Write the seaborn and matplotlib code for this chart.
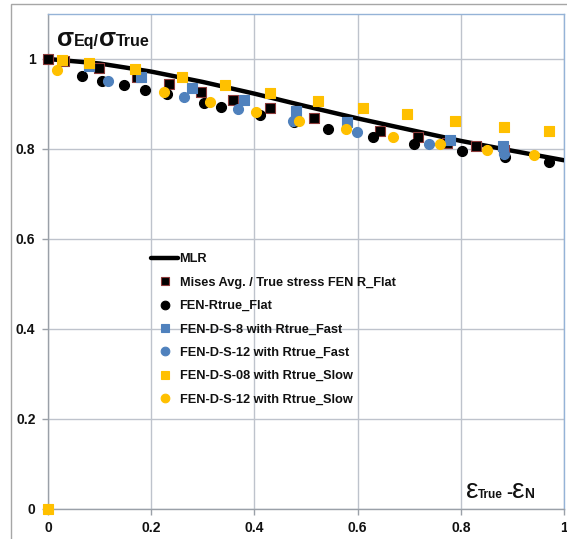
import matplotlib
matplotlib.use("Agg")
import matplotlib.pyplot as plt
import seaborn as sns
import pandas as pd
from matplotlib.lines import Line2D
from matplotlib.patches import Rectangle

sns.set_theme(style="white")
plt.rcParams['font.family'] = ['Liberation Sans', 'DejaVu Sans']

# ---- data ----
mlr_x = [0.0, 0.1, 0.2, 0.3, 0.4, 0.5, 0.6, 0.7, 0.8, 0.9, 1.0]
mlr_y = [1.0, 0.990, 0.972, 0.949, 0.923, 0.895, 0.868, 0.843, 0.818, 0.796, 0.775]

mises_x = [0.0, 0.031, 0.099, 0.172, 0.234, 0.296, 0.359, 0.430, 0.516, 0.644, 0.718, 0.774, 0.829, 0.884]
mises_y = [1.0, 0.995, 0.979, 0.961, 0.944, 0.927, 0.909, 0.891, 0.869, 0.840, 0.827, 0.814, 0.806, 0.798]

flat_x = [0.065, 0.104, 0.147, 0.188, 0.230, 0.302, 0.335, 0.411, 0.477, 0.542, 0.630, 0.710, 0.803, 0.886, 0.970]
flat_y = [0.963, 0.952, 0.942, 0.932, 0.922, 0.902, 0.893, 0.875, 0.861, 0.844, 0.826, 0.812, 0.796, 0.782, 0.772]

fast8_x = [0.080, 0.180, 0.279, 0.380, 0.480, 0.579, 0.779, 0.881]
fast8_y = [0.984, 0.960, 0.935, 0.908, 0.884, 0.861, 0.820, 0.806]

fast12_x = [0.116, 0.264, 0.368, 0.475, 0.599, 0.739, 0.884]
fast12_y = [0.952, 0.915, 0.889, 0.863, 0.837, 0.811, 0.788]

slow8_x = [0.0, 0.028, 0.079, 0.169, 0.260, 0.343, 0.430, 0.523, 0.611, 0.696, 0.789, 0.884, 0.971]
slow8_y = [0.0, 0.998, 0.992, 0.978, 0.961, 0.943, 0.925, 0.906, 0.891, 0.877, 0.863, 0.850, 0.840]

slow12_x = [0.018, 0.225, 0.313, 0.403, 0.487, 0.577, 0.669, 0.760, 0.851, 0.941]
slow12_y = [0.976, 0.926, 0.904, 0.883, 0.863, 0.844, 0.827, 0.812, 0.798, 0.787]

tick_vals = [0, 0.2, 0.4, 0.6, 0.8, 1]
tick_labels = ["0", "0.2", "0.4", "0.6", "0.8", "1"]

labels = ["MLR",
          "Mises Avg. / True stress FEN R_Flat",
          "FEN-Rtrue_Flat",
          "FEN-D-S-8 with Rtrue_Fast",
          "FEN-D-S-12 with Rtrue_Fast",
          "FEN-D-S-08 with Rtrue_Slow",
          "FEN-D-S-12 with Rtrue_Slow"]

BLUE = "#4F81BD"
YEL = "#FFC000"
GRID = "#BEC3CC"

W, H = 567, 539
fig = plt.figure(figsize=(W / 100, H / 100), dpi=100)
ax = fig.add_axes([48 / W, (H - 509) / H, (564 - 48) / W, (509 - 14) / H])

# outer chart frame
fig.patches.append(Rectangle((11 / W, -0.1), 1.2, (H - 4) / H + 0.1, transform=fig.transFigure,
                             fill=False, edgecolor="#A6A6A6", lw=1.0, zorder=0))

ms = 52
series = [
    (mises_x, mises_y, "s", "black", "#8B3A3A", labels[1]),
    (flat_x, flat_y, "o", "black", "black", labels[2]),
    (fast8_x, fast8_y, "s", BLUE, BLUE, labels[3]),
    (fast12_x, fast12_y, "o", BLUE, BLUE, labels[4]),
    (slow8_x, slow8_y, "s", YEL, YEL, labels[5]),
    (slow12_x, slow12_y, "o", YEL, YEL, labels[6]),
]

sns.lineplot(x=mlr_x, y=mlr_y, ax=ax, color="black", lw=3.2, zorder=3, legend=False)
for i, (xs, ys, m, fc, ec, lab) in enumerate(series):
    sns.scatterplot(x=xs, y=ys, ax=ax, marker=m, color=fc, edgecolor=ec, linewidth=0.8,
                    s=ms, zorder=4 + i, legend=False)
for coll in ax.collections:
    coll.set_clip_on(False)

ax.set_xlim(0, 1)
ax.set_ylim(0, 1.1)
ax.set_xticks(tick_vals)
ax.set_xticklabels(tick_labels)
ax.set_yticks(tick_vals)
ax.set_yticklabels(tick_labels)
ax.grid(True, color=GRID, lw=1.0)
ax.set_axisbelow(True)
ax.tick_params(axis="both", which="major", length=4, width=1, color="#9AA0A8",
               labelsize=10, pad=5, direction="out", bottom=True, left=True)
for lbl in ax.get_xticklabels() + ax.get_yticklabels():
    lbl.set_fontweight("bold")
    lbl.set_color("#111111")
for s in ["left", "bottom"]:
    ax.spines[s].set_color("#9AA0A8")
    ax.spines[s].set_linewidth(1.0)
for s in ["top", "right"]:
    ax.spines[s].set_color("#95B3D7")
    ax.spines[s].set_linewidth(1.0)

# legend
handles = [Line2D([], [], color="black", lw=3.2)]
for xs, ys, m, fc, ec, lab in series:
    handles.append(Line2D([], [], ls="none", marker=m, markerfacecolor=fc, markeredgecolor=ec,
                          markersize=6.2, markeredgewidth=0.8))
leg = ax.legend(handles, labels, loc="upper left", bbox_to_anchor=(0.19, 0.527), frameon=False,
                prop={"size": 9.2, "weight": "bold"}, handlelength=2.1, handletextpad=0.12,
                labelspacing=0.89, borderaxespad=0)
for txt in leg.get_texts():
    txt.set_color("#111111")

# axis titles built from pieces sharing one baseline
fig.canvas.draw()
renderer = fig.canvas.get_renderer()


def title_pieces(x_px, base_px, pieces):
    x = x_px
    y = H - base_px
    for txt, size, weight in pieces:
        t = fig.text(x / W, y / H, txt, fontsize=size, fontweight=weight,
                     family=["Liberation Sans", "DejaVu Sans"], va="baseline", ha="left",
                     color="#111111")
        bb = t.get_window_extent(renderer)
        x = bb.x1


title_pieces(57, 46, [("σ", 18, "bold"), ("Eq/", 11.5, "bold"), ("σ", 18, "bold"), ("True", 11.5, "bold")])
title_pieces(466, 498, [("ε", 20, "normal"), ("True", 8.5, "bold"), (" ", 7, "bold"), ("-", 13, "bold"),
                        ("ε", 20, "normal"), ("N", 10, "bold")])

fig.savefig("out.png", dpi=100)
